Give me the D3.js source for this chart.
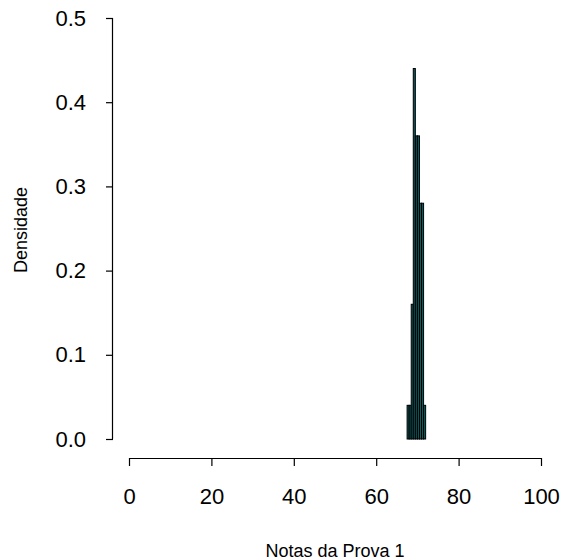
<!DOCTYPE html>
<html>
<head>
<meta charset="utf-8">
<script src="https://cdn.jsdelivr.net/npm/d3@7"></script>
<style>
body { margin:0; background:#fff; }
text { font-family: "Liberation Sans", Arial, sans-serif; }
</style>
</head>
<body>
<svg id="hist"></svg>
<script>
// histogram bins (left edges, width 0.5) and densities
var binStart = [67.5, 68, 68.5, 69, 69.5, 70, 70.5, 71, 71.5];
var binWidth = 0.5;
var density = [0.04, 0.04, 0.16, 0.44, 0.36, 0.36, 0.28, 0.28, 0.04];
var xTicks = [0, 20, 40, 60, 80, 100];
var yTicks = [0, 0.1, 0.2, 0.3, 0.4, 0.5];

var screen = {width:564, height:560};

var svg = d3.select("#hist")
    .attr("width",screen.width)
    .attr("height",screen.height);

//scales
var xScale = d3.scaleLinear().domain([0,100]).range([129,541]);
var yScale = d3.scaleLinear().domain([0,0.5]).range([439,18]);

var bins = binStart.map(function(b,i){
    return {x0:b, x1:b+binWidth, d:density[i]};
});

//bars
svg.append("g")
    .selectAll("rect")
    .data(bins)
    .enter()
    .append("rect")
    .attr("x",function(b){return xScale(b.x0);})
    .attr("width",function(b){return xScale(b.x1)-xScale(b.x0);})
    .attr("y",function(b){return yScale(b.d);})
    .attr("height",function(b){return yScale(0)-yScale(b.d);})
    .attr("fill","#0c5c60")
    .attr("stroke","#000")
    .attr("stroke-width",1);

//axes
var xAxis = d3.axisBottom(xScale).tickValues(xTicks).tickSize(8).tickPadding(22)
    .tickFormat(d3.format("d"));
var yAxis = d3.axisLeft(yScale).tickValues(yTicks).tickSize(7).tickPadding(20)
    .tickFormat(d3.format(".1f"));

var gx = svg.append("g")
    .attr("transform","translate(0,458)")
    .call(xAxis);
var gy = svg.append("g")
    .attr("transform","translate(113,0)")
    .call(yAxis);

[gx,gy].forEach(function(g){
    g.select(".domain").attr("stroke","#000").attr("stroke-width",1.2);
    g.selectAll(".tick line").attr("stroke","#000").attr("stroke-width",1.2);
    g.selectAll(".tick text")
        .attr("fill","#000")
        .style("font-size","22px")
        .style("font-family","Liberation Sans, Arial, sans-serif");
});
// plain axis lines, no end caps
gx.select(".domain").attr("d","M"+xScale(0)+",0.5H"+xScale(100));
gy.select(".domain").attr("d","M-0.5,"+yScale(0)+"V"+yScale(0.5));

//labels
svg.append("text")
    .text("Notas da Prova 1")
    .attr("text-anchor","middle")
    .attr("x",335)
    .attr("y",557)
    .style("font-size","18px");

svg.append("g")
    .attr("transform","translate(27,230)")
    .append("text")
    .text("Densidade")
    .attr("text-anchor","middle")
    .attr("transform","rotate(-90)")
    .style("font-size","18px");
</script>
</body>
</html>
